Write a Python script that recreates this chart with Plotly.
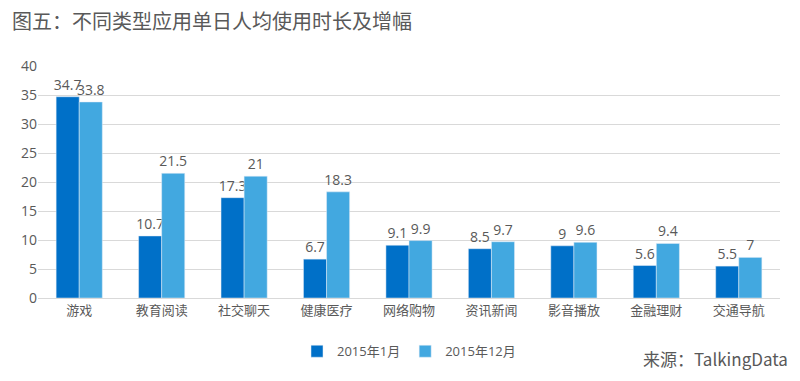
import plotly.graph_objects as go

categories = ["游戏", "教育阅读", "社交聊天", "健康医疗", "网络购物", "资讯新闻", "影音播放", "金融理财", "交通导航"]
jan_2015 = [34.7, 10.7, 17.3, 6.7, 9.1, 8.5, 9, 5.6, 5.5]
dec_2015 = [33.8, 21.5, 21, 18.3, 9.9, 9.7, 9.6, 9.4, 7]
series_names = ["2015年1月", "2015年12月"]
y_ticks = [0, 5, 10, 15, 20, 25, 30, 35, 40]

FONT = "Open Sans, Noto Sans CJK SC, sans-serif"
GRAY = "#595959"

fig = go.Figure()
for vals, name, color in [(jan_2015, series_names[0], "#0070C8"), (dec_2015, series_names[1], "#42A8E0")]:
    fig.add_trace(go.Bar(x=categories, y=vals, name=name, marker_color=color,
                         text=vals, textposition="outside", cliponaxis=False,
                         textfont=dict(size=14, color=GRAY, family=FONT)))

fig.update_layout(
    width=792, height=373,
    margin=dict(l=30, r=20, t=58, b=83),
    paper_bgcolor="white", plot_bgcolor="white",
    barmode="group", bargap=0.44, bargroupgap=0,
    uniformtext=dict(minsize=14, mode="show"),
    font=dict(family=FONT, color=GRAY, size=13),
    title=dict(text="图五：不同类型应用单日人均使用时长及增幅", x=0.005, xanchor="left",
               y=0.962, yanchor="middle", font=dict(size=20, color="#595959", family="Noto Sans CJK SC")),
    legend=dict(orientation="h", x=0.5, xanchor="center", y=-0.165, yanchor="top",
                font=dict(size=13, color=GRAY, family=FONT), itemwidth=30, traceorder="normal"),
    xaxis=dict(showline=True, linecolor="#d9d9d9", tickfont=dict(size=13, color=GRAY, family="Noto Sans CJK SC"), ticks=""),
    yaxis=dict(range=[0, 40], tickvals=y_ticks, showgrid=True, gridcolor="#d9d9d9",
               zeroline=False, tickfont=dict(size=14, color=GRAY, family=FONT), ticks=""),
    annotations=[dict(text="来源：TalkingData", x=1, y=0, xref="paper", yref="paper",
                      xanchor="right", yanchor="bottom", xshift=10, yshift=-75, showarrow=False,
                      font=dict(size=17, color=GRAY, family="Noto Sans CJK SC"))],
)

fig.write_html("out.html")
